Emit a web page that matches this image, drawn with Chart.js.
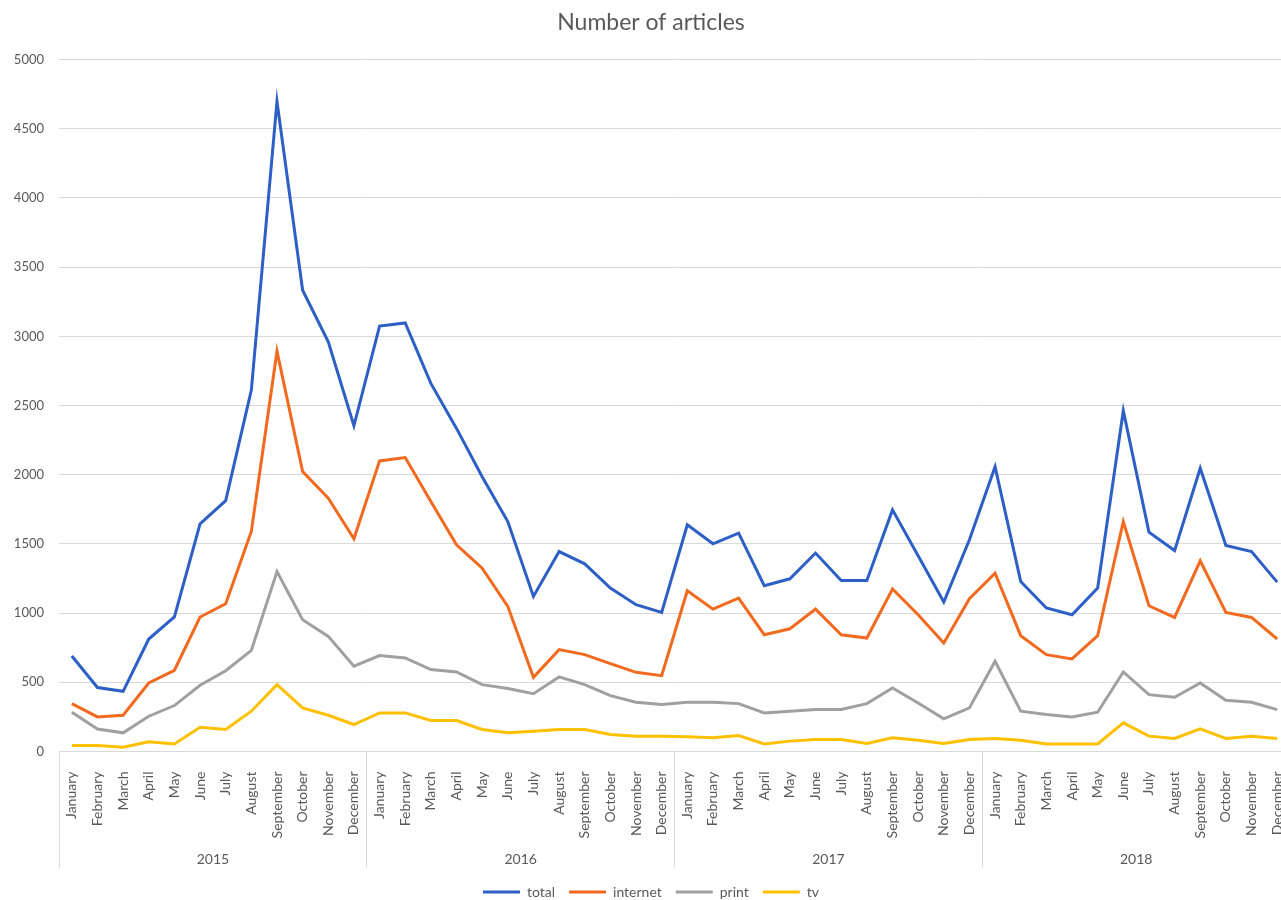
<!DOCTYPE html>
<html>
<head>
<meta charset="utf-8">
<title>Number of articles</title>
<script src="https://cdn.jsdelivr.net/npm/chart.js@4.4.1/dist/chart.umd.min.js"></script>
<style>
  html, body { margin: 0; padding: 0; background: #fff; overflow: hidden; }
  #wrap { width: 1281px; height: 900px; overflow: hidden; }
</style>
</head>
<body>
<div id="wrap"><canvas id="articlesChart" width="1290" height="920"></canvas></div>
<script>
const years = ["2015", "2016", "2017", "2018"];
const months = ["January", "February", "March", "April", "May", "June",
  "July", "August", "September", "October", "November", "December"];

const total = [
  690, 462, 435, 813, 972, 1645, 1813, 2612, 4697, 3333, 2960, 2354,
  3074, 3097, 2660, 2335, 1986, 1662, 1121, 1445, 1356, 1181, 1061, 1005,
  1638, 1501, 1578, 1198, 1248, 1434, 1236, 1236, 1746, 1414, 1080, 1530,
  2058, 1229, 1037, 988, 1181, 2463, 1585, 1452, 2047, 1489, 1445, 1224
];
const internet = [
  346, 250, 262, 495, 587, 972, 1068, 1590, 2893, 2023, 1830, 1537,
  2100, 2124, 1806, 1494, 1325, 1049, 536, 736, 700, 635, 572, 548,
  1162, 1029, 1109, 844, 887, 1029, 844, 820, 1174, 988, 784, 1104,
  1289, 837, 700, 669, 837, 1662, 1053, 969, 1378, 1005, 969, 813
];
const print = [
  284, 163, 135, 255, 332, 479, 584, 731, 1301, 952, 832, 616,
  693, 676, 592, 575, 483, 455, 418, 539, 483, 404, 356, 339,
  356, 356, 346, 279, 291, 303, 303, 346, 459, 351, 236, 315,
  652, 291, 267, 250, 284, 575, 411, 392, 495, 370, 356, 303
];
const tv = [
  43, 43, 31, 70, 55, 175, 159, 291, 483, 315, 262, 195,
  279, 279, 224, 224, 159, 135, 147, 159, 159, 123, 111, 111,
  106, 99, 115, 55, 75, 87, 87, 58, 99, 82, 58, 87,
  94, 82, 55, 55, 55, 207, 111, 94, 164, 94, 111, 94
];

const textColor = "#595959";
const gridColor = "#d9d9d9";

// one month label per point, repeated for every year
const labels = [];
years.forEach(() => months.forEach(m => labels.push(m)));

Chart.defaults.font.family = "Lato";
Chart.defaults.color = textColor;

function serie(label, data, color) {
  return {
    label: label,
    data: data,
    borderColor: color,
    backgroundColor: color,
    borderWidth: 3,
    pointRadius: 0,
    tension: 0,
    fill: false
  };
}

const ctx = document.getElementById("articlesChart").getContext("2d");

new Chart(ctx, {
  type: "line",
  data: {
    labels: labels,
    datasets: [
      serie("total", total, "#2d5fc6"),
      serie("internet", internet, "#f26a1f"),
      serie("print", print, "#a0a0a0"),
      serie("tv", tv, "#ffc000")
    ]
  },
  options: {
    responsive: false,
    animation: false,
    layout: {
      // a bit of left padding moves title and legend towards the original centre
      padding: { left: 12, right: 0, top: 0, bottom: 11 }
    },
    plugins: {
      title: {
        display: true,
        text: "Number of articles",
        color: textColor,
        font: { size: 23, weight: "normal" },
        padding: { top: 9, bottom: 23 }
      },
      legend: {
        position: "bottom",
        labels: {
          boxWidth: 37,
          boxHeight: 3,
          padding: 14,
          font: { size: 14 },
          color: textColor,
          generateLabels: chart => Chart.defaults.plugins.legend.labels
            .generateLabels(chart)
            .map(item => Object.assign(item, { lineWidth: 0 }))
        }
      },
      tooltip: { enabled: false }
    },
    scales: {
      x: {
        type: "category",
        position: "bottom",
        weight: 0,
        offset: true,
        grid: {
          offset: true,
          drawOnChartArea: false,
          drawTicks: true,
          tickLength: 116,
          color: c => (c.index % 12 === 0 ? gridColor : "rgba(0,0,0,0)")
        },
        border: { display: true, color: gridColor },
        ticks: {
          autoSkip: false,
          minRotation: 90,
          maxRotation: 90,
          padding: -96,
          font: { size: 14 }
        },
        afterFit: scale => { scale.height = 90; }
      },
      x2: {
        type: "category",
        position: "bottom",
        weight: 1,
        labels: years,
        offset: true,
        grid: { display: false },
        border: { display: false },
        ticks: { padding: 2, font: { size: 14 } },
        afterFit: scale => { scale.height = 29.5; }
      },
      y: {
        min: 0,
        max: 5000,
        ticks: {
          stepSize: 500,
          padding: 15,
          font: { size: 13 },
          callback: v => String(v)
        },
        grid: { color: gridColor, drawTicks: false },
        border: { display: false },
        afterFit: scale => { scale.width = 47; }
      }
    }
  }
});
</script>
</body>
</html>
